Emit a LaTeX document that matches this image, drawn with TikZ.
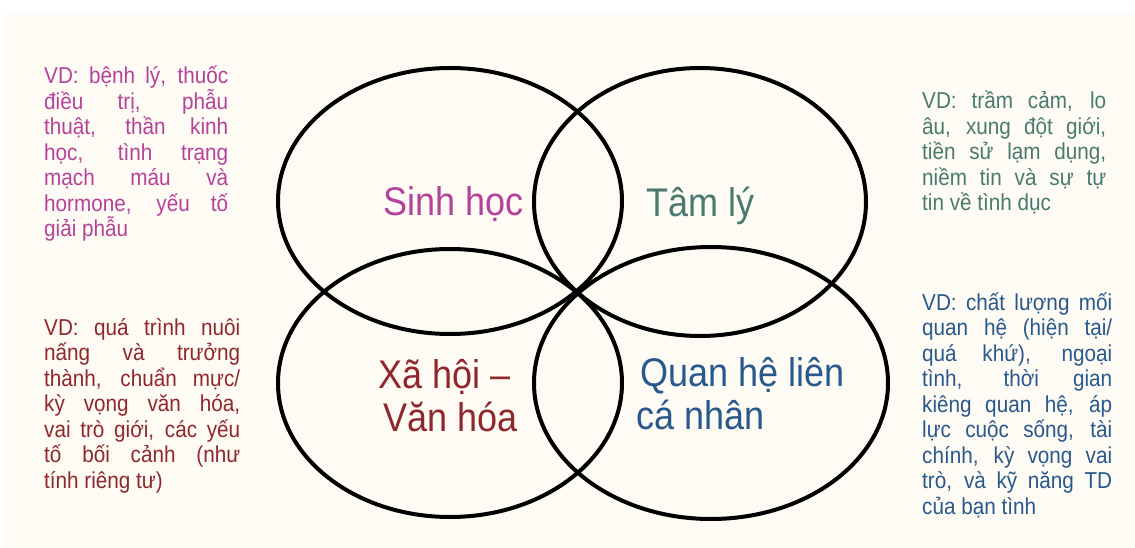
\documentclass[tikz,border=0pt]{standalone}
\usepackage{fontspec}
\setmainfont{Liberation Sans}[FakeStretch=0.9]
\definecolor{cream}{RGB}{254,251,244}
\definecolor{bio}{RGB}{181,66,154}
\definecolor{psy}{RGB}{72,122,112}
\definecolor{soc}{RGB}{142,40,44}
\definecolor{rel}{RGB}{40,88,140}
\newcommand{\jline}[2]{\makebox[#1][s]{#2}\\}
\begin{document}
\begin{tikzpicture}[x=1pt,y=-1pt,
  ring/.style={draw=black,line width=4pt},
  sidetext/.style={anchor=base west,inner sep=0pt,font=\fontsize{23}{25.5}\selectfont},
  biglabel/.style={anchor=base west,inner sep=0pt,align=left,font=\fontsize{40}{43}\selectfont}]
\useasboundingbox (0,0) rectangle (1135,548);
\fill[white] (0,0) rectangle (1135,548);
\fill[cream] (4,14) rectangle (1135,548);
% circles
\coordinate (ctl) at (450,201);
\coordinate (ctr) at (700,202);
\coordinate (cbl) at (450,383);
\coordinate (cbr) at (711,383);
\draw[ring] (ctl) ellipse [x radius=172, y radius=133];
\draw[ring] (ctr) ellipse [x radius=166, y radius=134];
\draw[ring] (cbl) ellipse [x radius=172, y radius=134];
\draw[ring] (cbr) ellipse [x radius=177, y radius=136];
% big labels
\node[biglabel,text=bio] (lbio) at (383,216) {Sinh học};
\node[biglabel,text=psy] (lpsy) at (646,217) {Tâm lý};
\node[biglabel,text=soc] (lsoc) at (378,431) {Xã hội –\\\hspace*{5pt}Văn hóa};
\node[biglabel,text=rel] (lrel) at (640,429) {Quan hệ liên\\\hspace*{-4pt}cá nhân};
% side texts
\node[sidetext,text=bio] (tbio) at (44,84) {\parbox[t]{184pt}{\raggedright
\jline{184pt}{VD: bệnh lý, thuốc}
\jline{184pt}{điều trị, phẫu}
\jline{184pt}{thuật, thần kinh}
\jline{184pt}{học, tình trạng}
\jline{184pt}{mạch máu và}
\jline{184pt}{hormone, yếu tố}
giải phẫu}};
\node[sidetext,text=soc] (tsoc) at (44,335) {\parbox[t]{196pt}{\raggedright
\jline{196pt}{VD: quá trình nuôi}
\jline{196pt}{nấng và trưởng}
\jline{196pt}{thành, chuẩn mực/}
\jline{196pt}{kỳ vọng văn hóa,}
\jline{196pt}{vai trò giới, các yếu}
\jline{196pt}{tố bối cảnh (như}
tính riêng tư)}};
\node[sidetext,text=psy] (tpsy) at (922,109) {\parbox[t]{184pt}{\raggedright
\jline{184pt}{VD: trầm cảm, lo}
\jline{184pt}{âu, xung đột giới,}
\jline{184pt}{tiền sử lạm dụng,}
\jline{184pt}{niềm tin và sự tự}
tin về tình dục}};
\node[sidetext,text=rel] (trel) at (922,310) {\parbox[t]{190pt}{\raggedright
\jline{190pt}{VD: chất lượng mối}
\jline{190pt}{quan hệ (hiện tại/}
\jline{190pt}{quá khứ), ngoại}
\jline{190pt}{tình, thời gian}
\jline{190pt}{kiêng quan hệ, áp}
\jline{190pt}{lực cuộc sống, tài}
\jline{190pt}{chính, kỳ vọng vai}
\jline{190pt}{trò, và kỹ năng TD}
của bạn tình}};
\end{tikzpicture}
\end{document}
